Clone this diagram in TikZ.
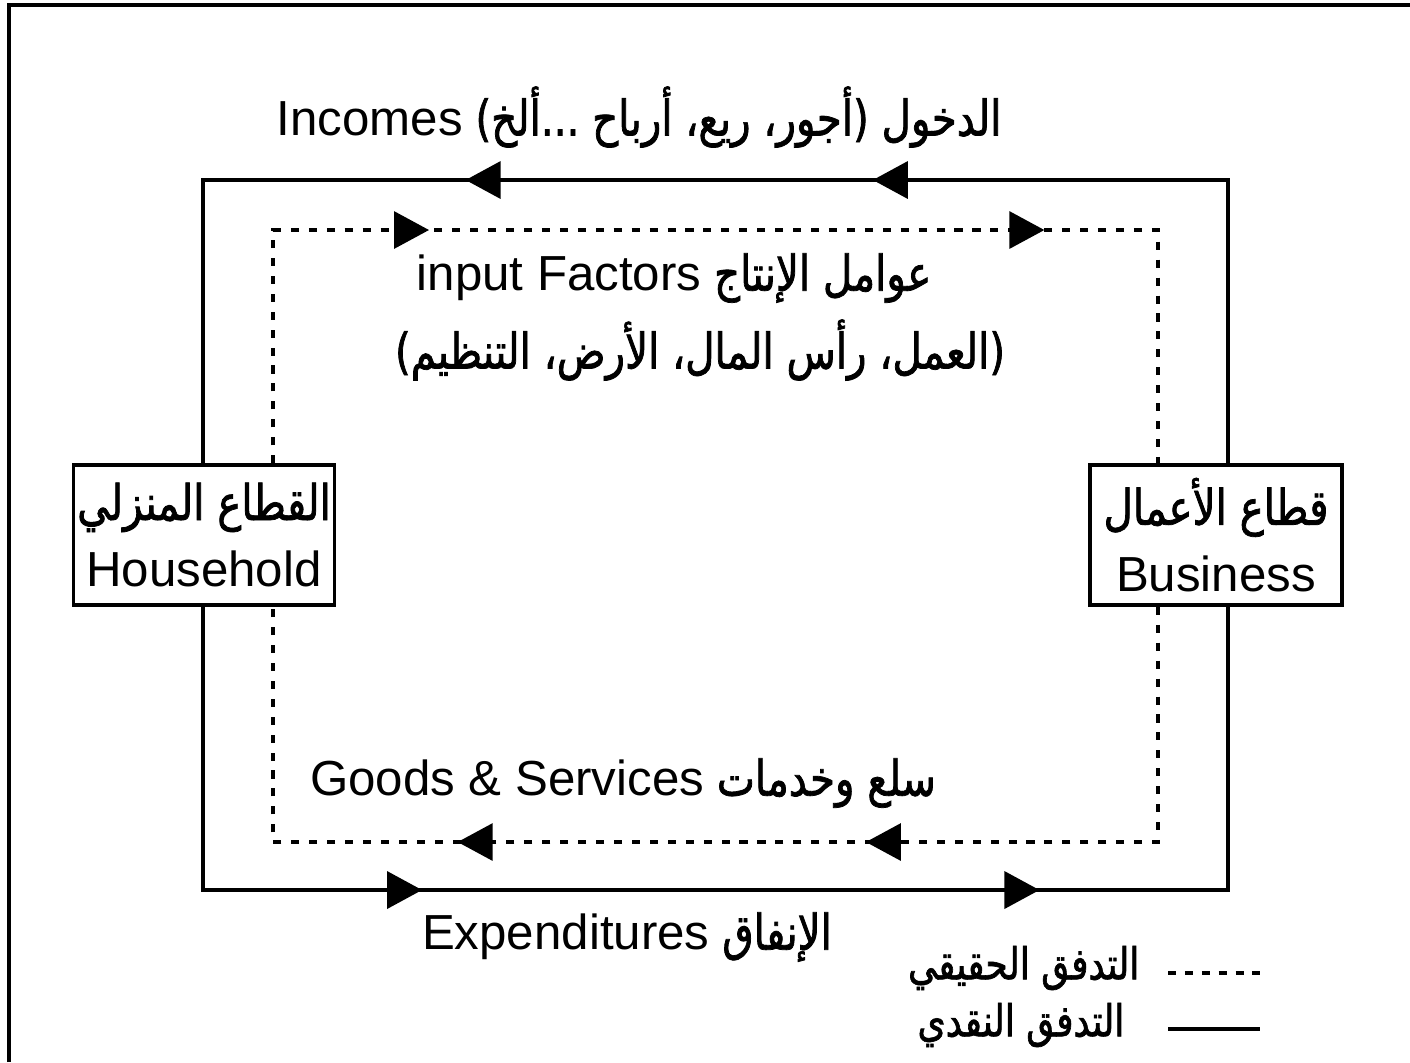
\documentclass[tikz,border=0pt]{standalone}
\usepackage{fontspec}
\setmainfont{Liberation Sans}
\newfontfamily\arabicfont[Script=Arabic, FakeStretch=0.82, FakeBold=1.5]{DejaVu Sans}
\TeXXeTstate=1
\usetikzlibrary{arrows.meta,decorations.markings}

\newcommand{\artext}[1]{{\arabicfont\beginR #1\endR}}
\newcommand{\lat}[1]{\beginL{\rmfamily #1}\endL}

\begin{document}
\begin{tikzpicture}[x=0.01cm, y=-0.01cm,
    money/.style={line width=1pt},
    goods/.style={line width=0.9pt, dash pattern=on 2.3pt off 2.8pt},
    sector/.style={draw, line width=1pt, fill=white, minimum width=2.52cm, minimum height=1.4cm, align=center, inner sep=1pt, font=\fontsize{14}{19}\selectfont},
    lbl/.style={font=\fontsize{14}{17}\selectfont, inner sep=0pt},
    keylbl/.style={font=\fontsize{12.5}{15}\selectfont, inner sep=0pt, anchor=east},
    flowtips/.style 2 args={postaction={decorate}, decoration={markings,
        mark=at position #1 with {\arrow{Triangle[length=3.5mm,width=3.7mm]}},
        mark=at position #2 with {\arrow{Triangle[length=3.5mm,width=3.7mm]}}}}]
  \useasboundingbox (0,0) rectangle (1410,1062);
  % frame
  \draw[line width=1pt] (9,1062) -- (9,5) -- (1410,5);

  \node[sector] (hh) at (204,535) {\artext{القطاع المنزلي}\\Household};
  \node[sector] (bc) at (1216,535) {\artext{قطاع الأعمال}\\Business};

  \coordinate (mTL) at (203,180); \coordinate (mTR) at (1228,180);
  \coordinate (mBL) at (203,890); \coordinate (mBR) at (1228,890);
  \coordinate (gTL) at (273,230); \coordinate (gTR) at (1158,230);
  \coordinate (gBL) at (273,842); \coordinate (gBR) at (1158,842);

  % money flow
  \draw[money, flowtips={6.38cm}{10.45cm}] (bc.north -| mTR) -- (mTR) -- (mTL) -- (hh.north -| mTL);
  \draw[money, flowtips={5.02cm}{11.19cm}] (hh.south -| mBL) -- (mBL) -- (mBR) -- (bc.south -| mBR);
  % real flow
  \draw[goods, flowtips={3.89cm}{10.04cm}] (hh.north -| gTL) -- (gTL) -- (gTR) -- (bc.north -| gTR);
  \draw[goods, flowtips={5.27cm}{9.35cm}] (bc.south -| gBR) -- (gBR) -- (gBL) -- (hh.south -| gBL);

  \node[lbl] (inc) at (639,117) {\artext{الدخول (أجور، ريع، أرباح ...ألخ) \lat{Incomes}}};
  \node[lbl] (fac) at (674,278) {\artext{عوامل الإنتاج \lat{input Factors}}};
  \node[lbl] (facl) at (700,350) {\artext{(العمل، رأس المال، الأرض، التنظيم)}};
  \node[lbl] (gs) at (623,783) {\artext{سلع وخدمات \lat{Goods \& Services}}};
  \node[lbl] (exp) at (627,937) {\artext{الإنفاق \lat{Expenditures}}};

  % key
  \coordinate (k1a) at (1168,973); \coordinate (k1b) at (1260,973);
  \coordinate (k2a) at (1168,1029); \coordinate (k2b) at (1260,1029);
  \draw[line width=1.2pt, dash pattern=on 2.3pt off 2.5pt] (k1a) -- (k1b);
  \draw[line width=1.2pt] (k2a) -- (k2b);
  \node[keylbl] (k1) at (1140,968) {\artext{التدفق الحقيقي}};
  \node[keylbl] (k2) at (1125,1025) {\artext{التدفق النقدي}};
\end{tikzpicture}
\end{document}
